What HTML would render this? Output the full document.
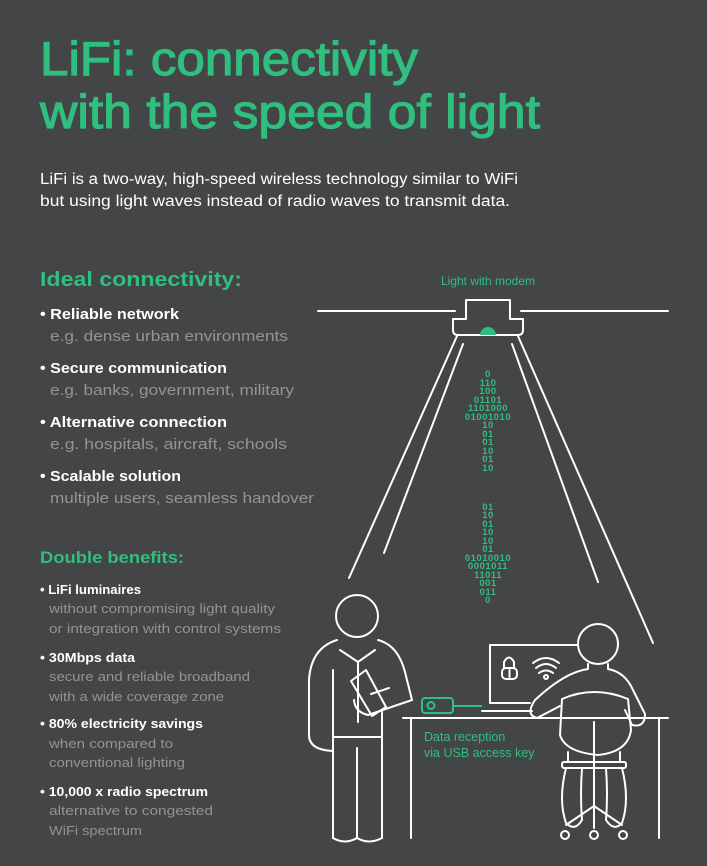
<!DOCTYPE html>
<html><head><meta charset="utf-8"><style>
html,body{margin:0;padding:0;background:#444547;}
svg{display:block}
text{font-family:"Liberation Sans",sans-serif}
.w{fill:#ffffff;font-weight:bold}
.g{fill:#939496}
.b{font-family:"DejaVu Sans Mono",monospace;font-size:9.5px;fill:#2fbf7f;text-anchor:middle;font-weight:bold;letter-spacing:0.5px}
</style></head><body>
<svg width="707" height="866" viewBox="0 0 707 866" xmlns="http://www.w3.org/2000/svg">
<rect width="707" height="866" fill="#444547"/>
<g fill="#2fbf7f" stroke="#2fbf7f" stroke-width="1.2">
<text x="40" y="75" font-size="47" textLength="378" lengthAdjust="spacingAndGlyphs">LiFi: connectivity</text>
<text x="40" y="128" font-size="47" textLength="500" lengthAdjust="spacingAndGlyphs">with the speed of light</text>
</g>
<text x="40" y="184" font-size="15.5" fill="#fff" textLength="478" lengthAdjust="spacingAndGlyphs">LiFi is a two-way, high-speed wireless technology similar to WiFi</text>
<text x="40" y="206" font-size="15.5" fill="#fff" textLength="470" lengthAdjust="spacingAndGlyphs">but using light waves instead of radio waves to transmit data.</text>

<text x="40" y="286" font-size="20" font-weight="bold" fill="#2fbf7f" textLength="202" lengthAdjust="spacingAndGlyphs">Ideal connectivity:</text>
<g font-size="15">
<text x="40" y="319" class="w" textLength="139" lengthAdjust="spacingAndGlyphs">• Reliable network</text>
<text x="50" y="341" class="g" textLength="238" lengthAdjust="spacingAndGlyphs">e.g. dense urban environments</text>
<text x="40" y="373" class="w" textLength="187" lengthAdjust="spacingAndGlyphs">• Secure communication</text>
<text x="50" y="395" class="g" textLength="244" lengthAdjust="spacingAndGlyphs">e.g. banks, government, military</text>
<text x="40" y="427" class="w" textLength="187" lengthAdjust="spacingAndGlyphs">• Alternative connection</text>
<text x="50" y="449" class="g" textLength="237" lengthAdjust="spacingAndGlyphs">e.g. hospitals, aircraft, schools</text>
<text x="40" y="481" class="w" textLength="141" lengthAdjust="spacingAndGlyphs">• Scalable solution</text>
<text x="50" y="503" class="g" textLength="264" lengthAdjust="spacingAndGlyphs">multiple users, seamless handover</text>
</g>

<text x="40" y="563" font-size="17" font-weight="bold" fill="#2fbf7f" textLength="144" lengthAdjust="spacingAndGlyphs">Double benefits:</text>
<g font-size="13">
<text x="40" y="594" class="w" textLength="101" lengthAdjust="spacingAndGlyphs">• LiFi luminaires</text>
<text x="49" y="613" class="g" textLength="226" lengthAdjust="spacingAndGlyphs">without compromising light quality</text>
<text x="49" y="633" class="g" textLength="232" lengthAdjust="spacingAndGlyphs">or integration with control systems</text>
<text x="40" y="662" class="w" textLength="95" lengthAdjust="spacingAndGlyphs">• 30Mbps data</text>
<text x="49" y="681" class="g" textLength="201" lengthAdjust="spacingAndGlyphs">secure and reliable broadband</text>
<text x="49" y="701" class="g" textLength="175" lengthAdjust="spacingAndGlyphs">with a wide coverage zone</text>
<text x="40" y="728" class="w" textLength="163" lengthAdjust="spacingAndGlyphs">• 80% electricity savings</text>
<text x="49" y="748" class="g" textLength="124" lengthAdjust="spacingAndGlyphs">when compared to</text>
<text x="49" y="767" class="g" textLength="136" lengthAdjust="spacingAndGlyphs">conventional lighting</text>
<text x="40" y="796" class="w" textLength="168" lengthAdjust="spacingAndGlyphs">• 10,000 x radio spectrum</text>
<text x="49" y="815" class="g" textLength="164" lengthAdjust="spacingAndGlyphs">alternative to congested</text>
<text x="49" y="835" class="g" textLength="93" lengthAdjust="spacingAndGlyphs">WiFi spectrum</text>
</g>

<text x="488" y="285" font-size="12" fill="#2fbf7f" text-anchor="middle">Light with modem</text>

<g fill="none" stroke="#fff" stroke-width="2" stroke-linecap="round" stroke-linejoin="round">
<line x1="318" y1="311" x2="455" y2="311"/>
<line x1="521" y1="311" x2="668" y2="311"/>
<path d="M466 319 V300 H510 V319 H523 V330 Q523 335 518 335 H458 Q453 335 453 330 V319 Z"/>
<line x1="457" y1="336" x2="349" y2="578"/>
<line x1="463" y1="344" x2="384" y2="553"/>
<line x1="512" y1="344" x2="598" y2="582"/>
<line x1="518" y1="336" x2="653" y2="643"/>

<circle cx="357" cy="616" r="21"/>
<path d="M337 640 Q311 648 309 680 V735 Q309 750 333 751"/>
<path d="M378 640 Q398 645 405 672 L412 700 L368 715 Q355 712 354 700"/>
<line x1="333" y1="670" x2="333" y2="838"/>
<line x1="382" y1="712" x2="382" y2="838"/>
<line x1="357" y1="748" x2="357" y2="838"/>
<line x1="334" y1="737" x2="381" y2="737"/>
<path d="M333 838 Q345 845 357 838 Q369 845 382 838"/>
<path d="M340 650 L358 662 L375 650"/>
<line x1="358" y1="662" x2="358" y2="722"/>
<path d="M351 681 L366 670 L386 707 L372 716 Z"/>
<line x1="371" y1="694" x2="389" y2="688"/>

<line x1="403" y1="718" x2="668" y2="718"/>
<line x1="411" y1="718" x2="411" y2="838"/>
<line x1="659" y1="718" x2="659" y2="838"/>
<path d="M578 645 H490 V703 H530"/>
<line x1="482" y1="711" x2="532" y2="711"/>
<path d="M504 668 V662 Q509 653 514 662 V668"/>
<rect x="502" y="668" width="15" height="11" rx="4"/>
<line x1="509.5" y1="670" x2="509.5" y2="677"/>
<path d="M536 668 Q546 660 556 668"/><path d="M533 663 Q546 653 559 663"/><path d="M539 673 Q546 668 553 673"/>
<circle cx="546" cy="677" r="2"/>

<circle cx="598" cy="644" r="20"/>
<path d="M588 664 V669 Q565 672 535 700 Q525 715 537 718 L560 706"/>
<path d="M608 664 V669 Q625 672 633 690 L645 714 Q645 728 632 725 L625 710"/>
<path d="M562 699 Q594 685 628 699 L631 730 Q628 752 598 755 Q565 752 560 735 Z"/>
<rect x="562" y="762" width="64" height="6" rx="2"/>
<line x1="568" y1="752" x2="568" y2="762"/><line x1="620" y1="752" x2="620" y2="762"/>
<line x1="594" y1="722" x2="594" y2="828"/>
<path d="M566 768 Q558 800 566 823 Q575 832 582 820 Q580 795 582 768"/>
<path d="M606 768 Q608 795 606 820 Q614 832 622 823 Q630 800 622 768"/>
<line x1="594" y1="806" x2="566" y2="825"/><line x1="594" y1="806" x2="622" y2="825"/>
<circle cx="565" cy="835" r="4"/><circle cx="594" cy="835" r="4"/><circle cx="623" cy="835" r="4"/>
</g>
<path d="M480 335 A8 8 0 0 1 496 335 Z" fill="#2fbf7f"/>

<g fill="none" stroke="#2fbf7f" stroke-width="2">
<rect x="422" y="698" width="31" height="15" rx="3"/>
<circle cx="431" cy="705.5" r="3.5"/>
<line x1="453" y1="706" x2="482" y2="706"/>
</g>
<text x="424" y="741" font-size="12.5" fill="#2fbf7f">Data reception</text>
<text x="424" y="757" font-size="12.5" fill="#2fbf7f">via USB access key</text>

<g class="b">
<text x="488" y="377">0</text><text x="488" y="386">110</text><text x="488" y="394">100</text><text x="488" y="403">01101</text>
<text x="488" y="411">1101000</text><text x="488" y="420">01001010</text><text x="488" y="428">10</text><text x="488" y="437">01</text>
<text x="488" y="445">01</text><text x="488" y="454">10</text><text x="488" y="462">01</text><text x="488" y="471">10</text>
<text x="488" y="510">01</text><text x="488" y="518">10</text><text x="488" y="527">01</text><text x="488" y="535">10</text>
<text x="488" y="544">10</text><text x="488" y="552">01</text><text x="488" y="561">01010010</text><text x="488" y="569">0001011</text>
<text x="488" y="578">11011</text><text x="488" y="586">001</text><text x="488" y="595">011</text><text x="488" y="603">0</text>
</g>
</svg>
</body></html>
